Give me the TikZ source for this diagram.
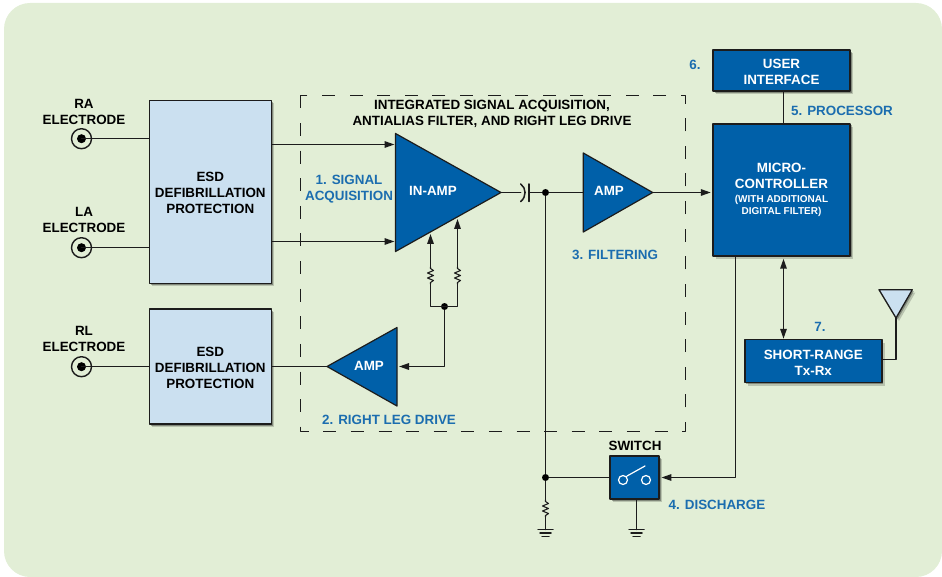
\documentclass[tikz,border=0pt]{standalone}
\usepackage{fontspec}
\setmainfont{Liberation Sans}
\usetikzlibrary{arrows.meta,shadows}
\definecolor{panelgreen}{HTML}{E2EED6}
\definecolor{paleblue}{HTML}{CBE0F0}
\definecolor{deepblue}{HTML}{0060A9}
\definecolor{labelblue}{HTML}{1B6DAF}
\definecolor{wiregray}{HTML}{1C1C1C}
\newcommand{\lowered}[1]{\rule{0pt}{#1}}
\tikzset{
  softshadow/.style={drop shadow={shadow xshift=3pt,shadow yshift=-3pt,opacity=.18,fill=black},
                     drop shadow={shadow xshift=1.5pt,shadow yshift=-1.5pt,opacity=.3,fill=black}},
  wire/.style={draw=wiregray,line width=1.5pt},
  esdbox/.style={draw=wiregray,line width=1.5pt,fill=paleblue,softshadow,align=center,inner sep=0pt,
                 font=\fontsize{13.4}{16}\bfseries},
  bluebox/.style={draw=wiregray,line width=1.5pt,fill=deepblue,softshadow,align=center,inner sep=0pt,
                  text=white,font=\fontsize{13.4}{16}\bfseries},
  amptri/.style={draw=wiregray,line width=1.2pt,fill=deepblue},
  amptext/.style={text=white,inner sep=0pt,font=\fontsize{13.4}{16}\bfseries},
  blacktext/.style={align=center,inner sep=0pt,font=\fontsize{13.4}{16}\bfseries},
  bluetext/.style={text=labelblue,align=center,inner sep=0pt,font=\fontsize{13.4}{16}\bfseries},
  jack/.style={draw=wiregray,circle,line width=1.4pt,minimum size=20pt,inner sep=0pt},
  joint/.style={circle,fill=black,minimum size=7pt,inner sep=0pt},
  zigzag/.pic={\draw[wire,line width=1.1pt] (0,-8.5)--(0,-7)--(3,-5)--(-3,-2.5)--(3,0)--(-3,2.5)--(3,5)--(0,7)--(0,8.5);},
  earth/.pic={\draw[wire] (-7.5,0)--(7.5,0) (-5.5,3.6)--(5.5,3.6) (-3.5,7.2)--(3.5,7.2);}
}
\begin{document}
\begin{tikzpicture}[line cap=round,line join=round,>={Triangle[length=10pt,width=6.5pt]},x=1pt,y=-1pt]
  \useasboundingbox (0,0) rectangle (942,577);
  \fill[panelgreen,rounded corners=26pt] (4,3) rectangle (942,577);
  \draw[wire,line width=1.3pt,line cap=butt,dash pattern=on 13pt off 14.6pt] (300.5,95.5) rectangle (685.5,431.5);
  % boxes
  \node[esdbox,minimum width=122pt,minimum height=183pt] (esdtop) at (210.3,192) {\lowered{12pt}ESD\\DEFIBRILLATION\\PROTECTION};
  \node[esdbox,minimum width=122pt,minimum height=115pt] (esdbot) at (210.3,366.5) {\lowered{12pt}ESD\\DEFIBRILLATION\\PROTECTION};
  \node[bluebox,minimum width=137pt,minimum height=41pt] (userif) at (781.5,70.7) {\lowered{12pt}USER\\INTERFACE};
  \node[bluebox,minimum width=137pt,minimum height=132pt] (micro) at (781.5,190) {MICRO-\\CONTROLLER\\[-2.5pt]{\fontsize{10}{12}\bfseries (WITH ADDITIONAL}\\[-3.5pt]{\fontsize{10}{12}\bfseries DIGITAL FILTER)}};
  \node[bluebox,minimum width=137pt,minimum height=43pt] (radio) at (813.3,361) {\lowered{13.5pt}SHORT-RANGE\\Tx-Rx};
  \node[bluebox,minimum width=49pt,minimum height=43pt] (switch) at (634.7,477.5) {};
  % electrodes
  \node[jack] (ra) at (81.5,138.7) {};
  \node[jack] (la) at (81.5,247.7) {};
  \node[jack] (rl) at (81.5,366.7) {};
  \fill (ra) circle (4.5);
  \fill (la) circle (4.5);
  \fill (rl) circle (4.5);
  % triangles
  \coordinate (inampa) at (394.5,144.5);
  \coordinate (inampb) at (394.5,241.5);
  \coordinate (inampc) at (430.5,234);
  \coordinate (inampd) at (457.5,219);
  \coordinate (inampout) at (501,192.5);
  \coordinate (ampin) at (583.3,192.5);
  \coordinate (ampout) at (652.7,192.5);
  \coordinate (rldin) at (399,366.5);
  \coordinate (rldout) at (327,366.5);
  \coordinate (capl) at (520.7,192.5);
  \coordinate (capr) at (529,192.5);
  \draw[amptri] (395.5,133.5)--(inampout)--(395.5,251.5)--cycle;
  \draw[amptri] (583.3,153)--(ampout)--(583.3,232)--cycle;
  \draw[amptri] (397,327.5)--(rldout)--(397,406)--cycle;
  \node[amptext] (inamplabel) at (433,191) {IN-AMP};
  \node[amptext] (amplabel) at (609,191) {AMP};
  \node[amptext] (rldlabel) at (369,366) {AMP};
  % junctions
  \node[joint] (dcjoint) at (545.5,192.5) {};
  \node[joint] (dumpjoint) at (545.5,477.5) {};
  \node[joint] (rldjoint) at (444.5,306.5) {};
  % left wiring
  \draw[wire] (ra.center)--(esdtop.west |- ra);
  \draw[wire] (la.center)--(esdtop.west |- la);
  \draw[wire] (rl.center)--(esdbot.west |- rl);
  \draw[wire,->] (esdtop.east |- inampa)--(inampa);
  \draw[wire,->] (esdtop.east |- inampb)--(inampb);
  \draw[wire] (esdbot.east |- rldout)--(rldout);
  % feedback
  \coordinate (feedl) at (430.5,306.5);
  \coordinate (feedr) at (457.5,306.5);
  \pic at (430.5,275.5) {zigzag};
  \pic at (457.5,275.5) {zigzag};
  \draw[wire,->] (430.5,267)--(inampc);
  \draw[wire,->] (457.5,267)--(inampd);
  \draw[wire] (430.5,284)--(feedl)--(feedr)--(457.5,284);
  \draw[wire,->] (rldjoint)--(rldjoint |- rldin)--(rldin);
  % signal path
  \draw[wire] (inampout)--(capl);
  \draw[wire] (520.7,184) .. controls (526.5,188) and (526.5,197) .. (520.7,201.5);
  \draw[wire] (529,184)--(529,201.5);
  \draw[wire] (capr)--(dcjoint);
  \draw[wire] (dcjoint)--(ampin);
  \draw[wire,->,shorten >=1.5pt] (ampout)--(micro.west |- ampout);
  \draw[wire] (dcjoint)--(dumpjoint);
  \draw[wire] (dumpjoint)--(switch.west |- dumpjoint);
  \draw[wire] (dumpjoint)--(545.5,500);
  \pic at (545.5,508.5) {zigzag};
  \draw[wire] (545.5,517)--(545.5,529.5);
  \pic at (545.5,529.5) {earth};
  \draw[wire] (636.5,499)--(636.5,529.5);
  \pic at (636.5,529.5) {earth};
  % switch
  \draw[white,line width=1.2pt] (623,480) circle (4.5) (646,480) circle (4.5) (627,476)--(645,466);
  % processor side
  \draw[wire] (userif.south -| 783.5,0)--(micro.north -| 783.5,0);
  \draw[wire,<->,shorten <=2pt] (micro.south -| 783.5,0)--(radio.north -| 783.5,0);
  \draw[wire,->,shorten >=1.5pt] (micro.south -| 735.5,0)--(735.5,477.5)--(switch.east |- dumpjoint);
  \coordinate (antl) at (879,289.7);
  \coordinate (antr) at (912.3,289.7);
  \coordinate (antb) at (896,318);
  \draw[draw=wiregray,line width=1.3pt,fill=paleblue,softshadow] (antl)--(antr)--(antb)--cycle;
  \draw[wire] (antb)--(896,359.5)--(radio.east |- 0,359.5);
  % texts
  \node[blacktext] (ralabel) at (84,112) {RA\\ELECTRODE};
  \node[blacktext] (lalabel) at (84,219.5) {LA\\ELECTRODE};
  \node[blacktext] (rllabel) at (84,338.5) {RL\\ELECTRODE};
  \node[blacktext] (title) at (492,114) {INTEGRATED SIGNAL ACQUISITION,\\ANTIALIAS FILTER, AND RIGHT LEG DRIVE};
  \node[blacktext] (switchlabel) at (635,446) {SWITCH};
  \node[bluetext] (acqlabel) at (349,189) {1. SIGNAL\\ACQUISITION};
  \node[bluetext] (drivelabel) at (389,419.5) {2. RIGHT LEG DRIVE};
  \node[bluetext] (filterlabel) at (615,255) {3. FILTERING};
  \node[bluetext] (dischargelabel) at (717,504.5) {4. DISCHARGE};
  \node[bluetext] (proclabel) at (842,110.5) {5. PROCESSOR};
  \node[bluetext] (uilabel) at (695,65) {6.};
  \node[bluetext] (radiolabel) at (820,327) {7.};
\end{tikzpicture}
\end{document}
